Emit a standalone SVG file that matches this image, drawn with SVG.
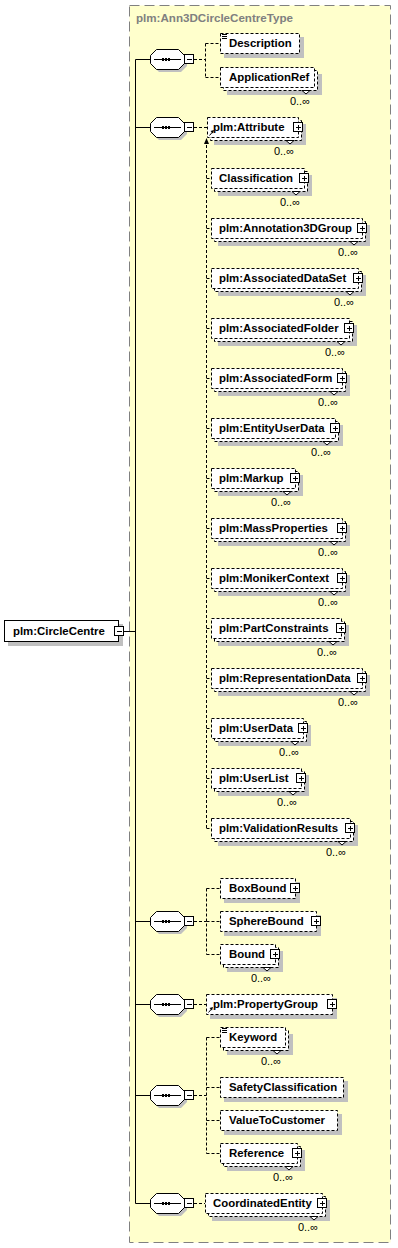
<svg xmlns="http://www.w3.org/2000/svg" xmlns:xlink="http://www.w3.org/1999/xlink" width="398" height="1248" viewBox="0 0 398 1248">
<style>
.sh{fill:#c0c0c0}
.bx{fill:#fff;stroke:#000;stroke-dasharray:3,2}
.bs{fill:#fff;stroke:#000}
.ic{fill:#fff;stroke:#000}
.ln{fill:none;stroke:#000}
.cn{fill:none;stroke:#000;stroke-dasharray:3,2}
.v{fill:#fff;stroke:#000}
.t{font-family:"Liberation Sans",Arial,sans-serif;font-size:11.4px;font-weight:bold;fill:#000}
.o{font-family:"Liberation Sans",Arial,sans-serif;font-size:11px;fill:#000;text-anchor:end}
.ti{font-family:"Liberation Sans",Arial,sans-serif;font-size:11.6px;font-weight:bold;fill:#808080}
</style>
<defs>
<g id="seq">
<path class="sh" transform="translate(3,3)" d="M156 -10H178L184 -4V4L178 10H156L150 4V-4Z"/>
<path class="bs" d="M156.5 -9.5H178.5L184.5 -3.5V4.5L178.5 10.5H156.5L150.5 4.5V-3.5Z"/>
<path class="ln" d="M154 0.5H181"/>
<rect x="162" y="-1" width="2" height="3"/>
<rect x="165" y="-1" width="2" height="3"/>
<rect x="168" y="-1" width="2" height="3"/>
<rect class="ic" x="184.5" y="-4.5" width="9" height="9"/>
<path class="ln" d="M187 0.5H192"/>
</g>
</defs>
<rect x="0" y="0" width="398" height="1248" fill="#fff"/>
<g id="type">
<rect x="129.5" y="5.5" width="261" height="1237" fill="#ffffcc" stroke="#808080" stroke-dasharray="10,5"/>
<text class="ti" x="136" y="22">plm:Ann3DCircleCentreType</text>
</g>
<g id="connectors">
<path class="ln" d="M124 631.5H135.5M135.5 59.5V1203.5M135.5 59.5H150M135.5 127.5H150M135.5 921.5H150M135.5 1004.5H150M135.5 1095.5H150M135.5 1203.5H150"/>
<path class="cn" d="M194 59.5H205.5M205.5 43.5V77.5M205.5 43.5H220M205.5 77.5H220"/>
<path class="cn" d="M194 127.5H207M206.5 140V828.5M206.5 178.5H211M206.5 228.5H211M206.5 278.5H211M206.5 328.5H211M206.5 378.5H211M206.5 428.5H211M206.5 478.5H211M206.5 528.5H211M206.5 578.5H211M206.5 628.5H211M206.5 678.5H211M206.5 728.5H211M206.5 778.5H211M206.5 828.5H211"/>
<polygon points="206.5,138 204,144 209,144"/>
<path class="cn" d="M194 921.5H206.5M206.5 888.5V954.5M206.5 888.5H220M206.5 921.5H220M206.5 954.5H220"/>
<path class="cn" d="M194 1004.5H206"/>
<path class="cn" d="M194 1095.5H206.5M206.5 1037.5V1153.5M206.5 1037.5H220M206.5 1087.5H220M206.5 1120.5H220M206.5 1153.5H220"/>
<path class="cn" d="M194 1203.5H205"/>
</g>
<g id="root">
<rect class="sh" x="8" y="624" width="115" height="22"/>
<rect class="bs" x="4.5" y="620.5" width="114" height="21"/>
<text class="t" x="13" y="635">plm:CircleCentre</text>
<rect class="ic" x="114.5" y="626.5" width="9" height="9"/>
<path class="ln" d="M117 631.5H122"/>
</g>
<g id="seq1"><use xlink:href="#seq" href="#seq" x="0" y="59"/></g>
<g id="seq2"><use xlink:href="#seq" href="#seq" x="0" y="127"/></g>
<g id="seq3"><use xlink:href="#seq" href="#seq" x="0" y="921"/></g>
<g id="seq4"><use xlink:href="#seq" href="#seq" x="0" y="1004"/></g>
<g id="seq5"><use xlink:href="#seq" href="#seq" x="0" y="1095"/></g>
<g id="seq6"><use xlink:href="#seq" href="#seq" x="0" y="1203"/></g>

<g id="n-description">
<rect class="sh" x="224" y="37" width="80" height="21"/>
<rect class="bx" x="220.5" y="33.5" width="79" height="20"/>
<path class="ln" d="M222 34.5h5M222 36.5h5M222 38.5h5"/>
<text class="t" x="229" y="47">Description</text>
</g>
<g id="n-applicationref">
<rect class="sh" x="227" y="74" width="95" height="21"/>
<rect class="bx" x="223.5" y="70.5" width="94" height="20"/>
<rect class="bx" x="220.5" y="67.5" width="94" height="20"/>
<text class="t" x="229" y="81">ApplicationRef</text>
<polygon class="v" points="302,90.5 306,94 310,90.5"/>
<text class="o" x="310" y="105">0..∞</text>
</g>
<g id="n-attribute">
<rect class="sh" x="214" y="124" width="92" height="21"/>
<rect class="bx" x="210.5" y="120.5" width="91" height="20"/>
<rect class="bx" x="207.5" y="117.5" width="91" height="20"/>
<path class="ln" d="M209.5 135.5L212.5 132"/>
<polygon points="214,130 210.5,131 213,133.5"/>
<text class="t" x="213" y="131">plm:Attribute</text>
<rect class="ic" x="293.5" y="122.5" width="9" height="9"/>
<path class="ln" d="M296 127.5H301M298.5 125V130"/>
<polygon class="v" points="286,140.5 290,144 294,140.5"/>
<text class="o" x="294" y="155">0..∞</text>
</g>
<g id="n-classification">
<rect class="sh" x="218" y="175" width="94" height="21"/>
<rect class="bx" x="214.5" y="171.5" width="93" height="20"/>
<rect class="bx" x="211.5" y="168.5" width="93" height="20"/>
<text class="t" x="219" y="182">Classification</text>
<rect class="ic" x="299.5" y="173.5" width="9" height="9"/>
<path class="ln" d="M302 178.5H307M304.5 176V181"/>
<polygon class="v" points="292,191.5 296,195 300,191.5"/>
<text class="o" x="300" y="206">0..∞</text>
</g>
<g id="n-annotation3dgroup">
<rect class="sh" x="218" y="225" width="152" height="21"/>
<rect class="bx" x="214.5" y="221.5" width="151" height="20"/>
<rect class="bx" x="211.5" y="218.5" width="151" height="20"/>
<text class="t" x="219" y="232">plm:Annotation3DGroup</text>
<rect class="ic" x="357.5" y="223.5" width="9" height="9"/>
<path class="ln" d="M360 228.5H365M362.5 226V231"/>
<polygon class="v" points="350,241.5 354,245 358,241.5"/>
<text class="o" x="358" y="256">0..∞</text>
</g>
<g id="n-associateddataset">
<rect class="sh" x="218" y="275" width="148" height="21"/>
<rect class="bx" x="214.5" y="271.5" width="147" height="20"/>
<rect class="bx" x="211.5" y="268.5" width="147" height="20"/>
<text class="t" x="219" y="282">plm:AssociatedDataSet</text>
<rect class="ic" x="353.5" y="273.5" width="9" height="9"/>
<path class="ln" d="M356 278.5H361M358.5 276V281"/>
<polygon class="v" points="346,291.5 350,295 354,291.5"/>
<text class="o" x="354" y="306">0..∞</text>
</g>
<g id="n-associatedfolder">
<rect class="sh" x="218" y="325" width="139" height="21"/>
<rect class="bx" x="214.5" y="321.5" width="138" height="20"/>
<rect class="bx" x="211.5" y="318.5" width="138" height="20"/>
<text class="t" x="219" y="332">plm:AssociatedFolder</text>
<rect class="ic" x="344.5" y="323.5" width="9" height="9"/>
<path class="ln" d="M347 328.5H352M349.5 326V331"/>
<polygon class="v" points="337,341.5 341,345 345,341.5"/>
<text class="o" x="345" y="356">0..∞</text>
</g>
<g id="n-associatedform">
<rect class="sh" x="218" y="375" width="132" height="21"/>
<rect class="bx" x="214.5" y="371.5" width="131" height="20"/>
<rect class="bx" x="211.5" y="368.5" width="131" height="20"/>
<text class="t" x="219" y="382">plm:AssociatedForm</text>
<rect class="ic" x="337.5" y="373.5" width="9" height="9"/>
<path class="ln" d="M340 378.5H345M342.5 376V381"/>
<polygon class="v" points="330,391.5 334,395 338,391.5"/>
<text class="o" x="338" y="406">0..∞</text>
</g>
<g id="n-entityuserdata">
<rect class="sh" x="218" y="425" width="125" height="21"/>
<rect class="bx" x="214.5" y="421.5" width="124" height="20"/>
<rect class="bx" x="211.5" y="418.5" width="124" height="20"/>
<text class="t" x="219" y="432">plm:EntityUserData</text>
<rect class="ic" x="330.5" y="423.5" width="9" height="9"/>
<path class="ln" d="M333 428.5H338M335.5 426V431"/>
<polygon class="v" points="323,441.5 327,445 331,441.5"/>
<text class="o" x="331" y="456">0..∞</text>
</g>
<g id="n-markup">
<rect class="sh" x="218" y="475" width="85" height="21"/>
<rect class="bx" x="214.5" y="471.5" width="84" height="20"/>
<rect class="bx" x="211.5" y="468.5" width="84" height="20"/>
<text class="t" x="219" y="482">plm:Markup</text>
<rect class="ic" x="290.5" y="473.5" width="9" height="9"/>
<path class="ln" d="M293 478.5H298M295.5 476V481"/>
<polygon class="v" points="283,491.5 287,495 291,491.5"/>
<text class="o" x="291" y="506">0..∞</text>
</g>
<g id="n-massproperties">
<rect class="sh" x="218" y="525" width="132" height="21"/>
<rect class="bx" x="214.5" y="521.5" width="131" height="20"/>
<rect class="bx" x="211.5" y="518.5" width="131" height="20"/>
<text class="t" x="219" y="532">plm:MassProperties</text>
<rect class="ic" x="337.5" y="523.5" width="9" height="9"/>
<path class="ln" d="M340 528.5H345M342.5 526V531"/>
<polygon class="v" points="330,541.5 334,545 338,541.5"/>
<text class="o" x="338" y="556">0..∞</text>
</g>
<g id="n-monikercontext">
<rect class="sh" x="218" y="575" width="132" height="21"/>
<rect class="bx" x="214.5" y="571.5" width="131" height="20"/>
<rect class="bx" x="211.5" y="568.5" width="131" height="20"/>
<text class="t" x="219" y="582">plm:MonikerContext</text>
<rect class="ic" x="337.5" y="573.5" width="9" height="9"/>
<path class="ln" d="M340 578.5H345M342.5 576V581"/>
<polygon class="v" points="330,591.5 334,595 338,591.5"/>
<text class="o" x="338" y="606">0..∞</text>
</g>
<g id="n-partconstraints">
<rect class="sh" x="218" y="625" width="131" height="21"/>
<rect class="bx" x="214.5" y="621.5" width="130" height="20"/>
<rect class="bx" x="211.5" y="618.5" width="130" height="20"/>
<text class="t" x="219" y="632">plm:PartConstraints</text>
<rect class="ic" x="336.5" y="623.5" width="9" height="9"/>
<path class="ln" d="M339 628.5H344M341.5 626V631"/>
<polygon class="v" points="329,641.5 333,645 337,641.5"/>
<text class="o" x="337" y="656">0..∞</text>
</g>
<g id="n-representationdata">
<rect class="sh" x="218" y="675" width="152" height="21"/>
<rect class="bx" x="214.5" y="671.5" width="151" height="20"/>
<rect class="bx" x="211.5" y="668.5" width="151" height="20"/>
<text class="t" x="219" y="682">plm:RepresentationData</text>
<rect class="ic" x="357.5" y="673.5" width="9" height="9"/>
<path class="ln" d="M360 678.5H365M362.5 676V681"/>
<polygon class="v" points="350,691.5 354,695 358,691.5"/>
<text class="o" x="358" y="706">0..∞</text>
</g>
<g id="n-userdata">
<rect class="sh" x="218" y="725" width="93" height="21"/>
<rect class="bx" x="214.5" y="721.5" width="92" height="20"/>
<rect class="bx" x="211.5" y="718.5" width="92" height="20"/>
<text class="t" x="219" y="732">plm:UserData</text>
<rect class="ic" x="298.5" y="723.5" width="9" height="9"/>
<path class="ln" d="M301 728.5H306M303.5 726V731"/>
<polygon class="v" points="291,741.5 295,745 299,741.5"/>
<text class="o" x="299" y="756">0..∞</text>
</g>
<g id="n-userlist">
<rect class="sh" x="218" y="775" width="91" height="21"/>
<rect class="bx" x="214.5" y="771.5" width="90" height="20"/>
<rect class="bx" x="211.5" y="768.5" width="90" height="20"/>
<text class="t" x="219" y="782">plm:UserList</text>
<rect class="ic" x="296.5" y="773.5" width="9" height="9"/>
<path class="ln" d="M299 778.5H304M301.5 776V781"/>
<polygon class="v" points="289,791.5 293,795 297,791.5"/>
<text class="o" x="297" y="806">0..∞</text>
</g>
<g id="n-validationresults">
<rect class="sh" x="218" y="825" width="140" height="21"/>
<rect class="bx" x="214.5" y="821.5" width="139" height="20"/>
<rect class="bx" x="211.5" y="818.5" width="139" height="20"/>
<text class="t" x="219" y="832">plm:ValidationResults</text>
<rect class="ic" x="345.5" y="823.5" width="9" height="9"/>
<path class="ln" d="M348 828.5H353M350.5 826V831"/>
<polygon class="v" points="338,841.5 342,845 346,841.5"/>
<text class="o" x="346" y="856">0..∞</text>
</g>
<g id="n-boxbound">
<rect class="sh" x="224" y="882" width="76" height="21"/>
<rect class="bx" x="220.5" y="878.5" width="75" height="20"/>
<text class="t" x="229" y="892">BoxBound</text>
<rect class="ic" x="290.5" y="883.5" width="9" height="9"/>
<path class="ln" d="M293 888.5H298M295.5 886V891"/>
</g>
<g id="n-spherebound">
<rect class="sh" x="224" y="915" width="97" height="21"/>
<rect class="bx" x="220.5" y="911.5" width="96" height="20"/>
<text class="t" x="229" y="925">SphereBound</text>
<rect class="ic" x="311.5" y="916.5" width="9" height="9"/>
<path class="ln" d="M314 921.5H319M316.5 919V924"/>
</g>
<g id="n-bound">
<rect class="sh" x="227" y="951" width="56" height="21"/>
<rect class="bx" x="223.5" y="947.5" width="55" height="20"/>
<rect class="bx" x="220.5" y="944.5" width="55" height="20"/>
<text class="t" x="229" y="958">Bound</text>
<rect class="ic" x="270.5" y="949.5" width="9" height="9"/>
<path class="ln" d="M273 954.5H278M275.5 952V957"/>
<polygon class="v" points="263,967.5 267,971 271,967.5"/>
<text class="o" x="271" y="982">0..∞</text>
</g>
<g id="n-propertygroup">
<rect class="sh" x="210" y="998" width="127" height="21"/>
<rect class="bx" x="206.5" y="994.5" width="126" height="20"/>
<path class="ln" d="M208.5 1012.5L211.5 1009"/>
<polygon points="213,1007 209.5,1008 212,1010.5"/>
<text class="t" x="213" y="1008">plm:PropertyGroup</text>
<rect class="ic" x="327.5" y="999.5" width="9" height="9"/>
<path class="ln" d="M330 1004.5H335M332.5 1002V1007"/>
</g>
<g id="n-keyword">
<rect class="sh" x="227" y="1034" width="66" height="21"/>
<rect class="bx" x="223.5" y="1030.5" width="65" height="20"/>
<rect class="bx" x="220.5" y="1027.5" width="65" height="20"/>
<path class="ln" d="M222 1028.5h5M222 1030.5h5M222 1032.5h5"/>
<text class="t" x="229" y="1041">Keyword</text>
<polygon class="v" points="273,1050.5 277,1054 281,1050.5"/>
<text class="o" x="281" y="1065">0..∞</text>
</g>
<g id="n-safetyclassification">
<rect class="sh" x="224" y="1081" width="124" height="21"/>
<rect class="bx" x="220.5" y="1077.5" width="123" height="20"/>
<text class="t" x="229" y="1091">SafetyClassification</text>
</g>
<g id="n-valuetocustomer">
<rect class="sh" x="224" y="1114" width="118" height="21"/>
<rect class="bx" x="220.5" y="1110.5" width="117" height="20"/>
<text class="t" x="229" y="1124">ValueToCustomer</text>
</g>
<g id="n-reference">
<rect class="sh" x="227" y="1150" width="78" height="21"/>
<rect class="bx" x="223.5" y="1146.5" width="77" height="20"/>
<rect class="bx" x="220.5" y="1143.5" width="77" height="20"/>
<text class="t" x="229" y="1157">Reference</text>
<rect class="ic" x="292.5" y="1148.5" width="9" height="9"/>
<path class="ln" d="M295 1153.5H300M297.5 1151V1156"/>
<polygon class="v" points="285,1166.5 289,1170 293,1166.5"/>
<text class="o" x="293" y="1181">0..∞</text>
</g>
<g id="n-coordinatedentity">
<rect class="sh" x="212" y="1200" width="118" height="21"/>
<rect class="bx" x="208.5" y="1196.5" width="117" height="20"/>
<rect class="bx" x="205.5" y="1193.5" width="117" height="20"/>
<text class="t" x="213" y="1207">CoordinatedEntity</text>
<rect class="ic" x="317.5" y="1198.5" width="9" height="9"/>
<path class="ln" d="M320 1203.5H325M322.5 1201V1206"/>
<polygon class="v" points="310,1216.5 314,1220 318,1216.5"/>
<text class="o" x="318" y="1231">0..∞</text>
</g>
</svg>
